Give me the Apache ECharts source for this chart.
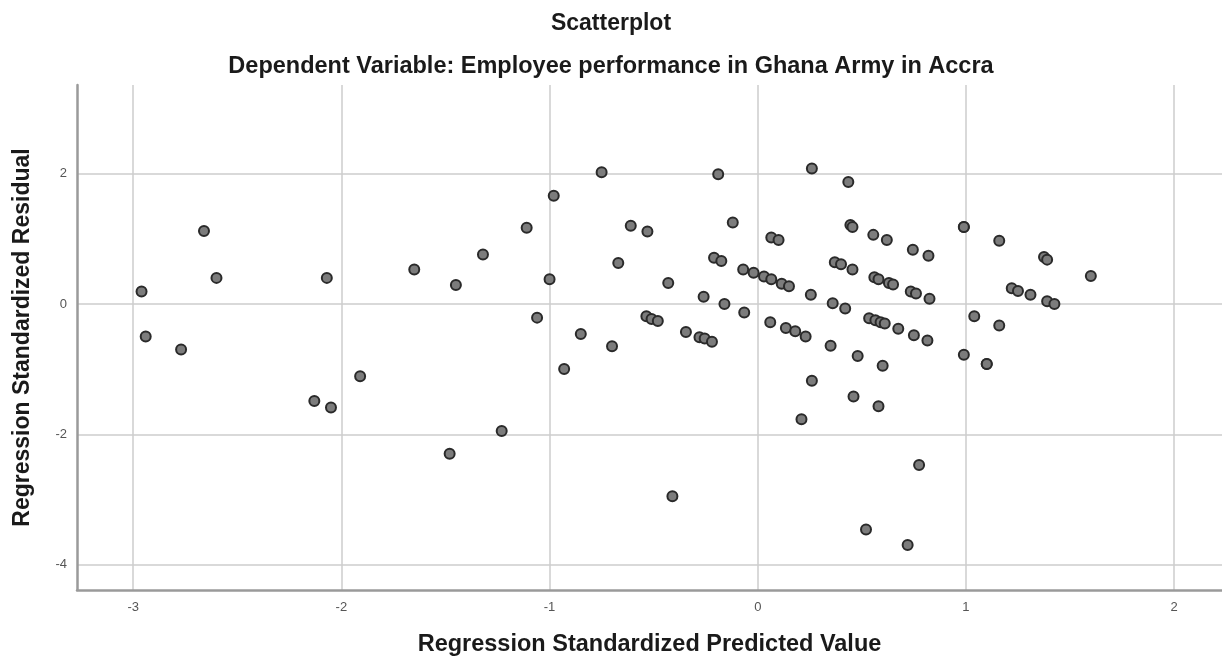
<!DOCTYPE html>
<html><head><meta charset="utf-8">
<script src="https://cdn.jsdelivr.net/npm/echarts@6/dist/echarts.min.js"></script>
<style>html,body{margin:0;padding:0;background:#fff}#c{width:1222px;height:662px}</style>
</head><body><div id="c"></div>
<script>
const predicted = [-2.96,-2.94,-2.77,-2.66,-2.60,-2.13,-2.07,-2.05,-1.91,-1.65,-1.48,-1.45,-1.32,-1.23,-1.11,-1.06,-1.00,-0.98,-0.93,-0.85,-0.75,-0.70,-0.67,-0.61,-0.535,-0.53,-0.51,-0.48,-0.43,-0.41,-0.345,-0.28,-0.26,-0.255,-0.22,-0.21,-0.19,-0.175,-0.16,-0.12,-0.07,-0.065,-0.02,0.03,0.06,0.065,0.065,0.10,0.115,0.135,0.15,0.18,0.21,0.23,0.255,0.26,0.26,0.35,0.36,0.37,0.40,0.42,0.435,0.445,0.455,0.455,0.46,0.48,0.52,0.535,0.555,0.56,0.565,0.58,0.58,0.59,0.60,0.61,0.62,0.63,0.65,0.675,0.72,0.735,0.745,0.75,0.76,0.775,0.815,0.82,0.825,0.99,0.99,0.99,1.04,1.10,1.10,1.16,1.16,1.22,1.25,1.31,1.375,1.39,1.39,1.425,1.60];
const residual = [0.19,-0.50,-0.70,1.12,0.40,-1.49,0.40,-1.59,-1.11,0.53,-2.30,0.29,0.76,-1.95,1.17,-0.21,0.38,1.66,-1.00,-0.46,2.02,-0.65,0.63,1.20,-0.19,1.11,-0.23,-0.26,0.32,-2.95,-0.43,-0.51,0.11,-0.53,-0.58,0.71,1.99,0.66,0.00,1.25,0.53,-0.13,0.48,0.42,-0.28,1.02,0.38,0.98,0.31,-0.37,0.27,-0.42,-1.77,-0.50,0.14,-1.18,2.08,-0.64,0.01,0.64,0.61,-0.07,1.87,1.21,1.18,0.53,-1.42,-0.80,-3.46,-0.22,1.06,0.41,-0.25,0.38,-1.57,-0.28,-0.95,-0.30,0.98,0.32,0.30,-0.38,-3.70,0.19,0.83,-0.48,0.16,-2.47,-0.56,0.74,0.08,1.18,1.18,-0.78,-0.19,-0.92,-0.92,-0.33,0.97,0.24,0.20,0.14,0.72,0.68,0.04,0.00,0.43];
const xTicks = [-3,-2,-1,0,1,2];
const yTicks = [-4,-2,0,2];
const titleText = 'Scatterplot';
const subtitleText = 'Dependent Variable: Employee performance in Ghana Army in Accra';
const xName = 'Regression Standardized Predicted Value';
const yName = 'Regression Standardized Residual';

const pts = predicted.map((x,i)=>[x,residual[i]]);
const chart = echarts.init(document.getElementById('c'), null, {renderer:'canvas'});
const FONT = '"Liberation Sans", Arial, sans-serif';
chart.setOption({
  animation:false,
  backgroundColor:'#ffffff',
  title:[
    {text:titleText,left:'center',top:7,textStyle:{fontFamily:FONT,fontWeight:'bold',fontSize:23,color:'#1a1a1a'}},
    {text:subtitleText,left:'center',top:50,textStyle:{fontFamily:FONT,fontWeight:'bold',fontSize:23.5,color:'#1a1a1a'}}
  ],
  grid:{left:77,right:0,top:85,bottom:65,containLabel:false},
  xAxis:{
    type:'value',min:-3.27,max:2.23,
    name:xName,nameLocation:'middle',nameGap:43,
    nameTextStyle:{fontFamily:FONT,fontWeight:'bold',fontSize:23.5,color:'#1a1a1a'},
    axisLine:{show:true,onZero:false,lineStyle:{color:'#9a9a9a',width:2.5}},
    axisTick:{show:false,customValues:xTicks},
    axisLabel:{customValues:xTicks,fontFamily:FONT,fontSize:13,color:'#555',margin:11,formatter:v=>String(v)},
    splitLine:{show:true,lineStyle:{color:'#cccccc',width:1.5}}
  },
  yAxis:{
    type:'value',min:-4.39,max:3.36,
    name:yName,nameLocation:'middle',nameGap:43,
    nameTextStyle:{fontFamily:FONT,fontWeight:'bold',fontSize:23,color:'#1a1a1a'},
    axisLine:{show:true,onZero:false,lineStyle:{color:'#9a9a9a',width:2.5}},
    axisTick:{show:false,customValues:yTicks},
    axisLabel:{customValues:yTicks,fontFamily:FONT,fontSize:13,color:'#555',margin:10,formatter:v=>String(v)},
    splitLine:{show:true,lineStyle:{color:'#cccccc',width:1.5}}
  },
  series:[{
    type:'scatter',data:pts,symbol:'circle',symbolSize:10,
    itemStyle:{color:'#7c7c7c',borderColor:'#2a2a2a',borderWidth:2,opacity:1}
  }]
});
</script></body></html>
